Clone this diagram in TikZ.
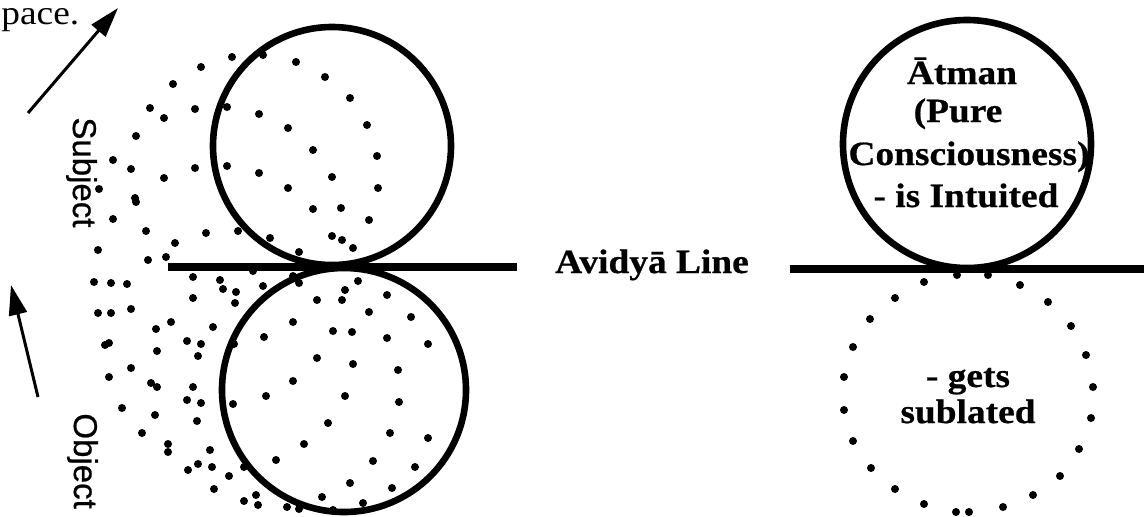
\documentclass[tikz,border=0pt]{standalone}
\usepackage{fontspec}
\usetikzlibrary{arrows.meta}
\newfontfamily\subjfont{Liberation Sans}[FakeBold=0.7]
\newfontfamily\serfont{Liberation Serif}[FakeStretch=1.1, BoldFeatures={FakeBold=0.6}]
\newcommand\schbold{\serfont\bfseries\fontsize{17pt}{21pt}\selectfont}
\newcommand\schreg{\serfont\fontsize{17pt}{21pt}\selectfont}
\tikzset{
  ring/.style={line width=3.3pt},
  bar/.style={line width=4.3pt},
  arr/.style={line width=1.5pt, -{Triangle[length=15pt,width=9pt]}},
  lbl/.style={inner sep=0pt, font=\schbold},
  side/.style={inner sep=0pt, font=\subjfont\fontsize{16.5pt}{20pt}\selectfont, rotate=-90, anchor=base west},
}
\begin{document}
\begin{tikzpicture}[x=0.5pt,y=-0.5pt]
\useasboundingbox (0,0) rectangle (1148,516);
\clip (0,0) rectangle (1148,516);
% centres
\coordinate (cu) at (332,146);
\coordinate (cl) at (344,390);
\coordinate (cr) at (967,144);
% dots of the left figure
\foreach \p in {(232,57),(201,67),(173,84),(150,108),(164,118),(195,109),(227,107),(259,114),(296,62),(325,77),(350,98),(367,125),(288,128),(313,150),(377,156),(136,136),(113,160),(131,169),(164,178),(195,168),(227,166),(259,173),(332,177),(288,188),(378,188),(99,189),(135,198),(136,202),(313,209),(341,208),(369,220),(113,219),(146,231),(206,233),(238,231),(270,238),(332,236),(342,240),(353,248),(299,252),(175,243),(166,257),(148,260),(98,250),(263,55),
(94,282),(111,283),(127,284),(193,277),(220,280),(223,289),(236,292),(263,286),(253,271),(293,276),(299,283),(193,298),(235,303),(345,290),(358,281),(342,300),(317,300),(387,295),(369,312),(411,317),(98,313),(111,313),(131,309),(171,322),(156,329),(213,327),(293,322),(333,331),(352,332),(387,338),(428,344),(264,337),(187,341),(201,344),(198,356),(157,351),(234,344),(317,358),(353,364),(398,370),(105,345),(109,343),(131,368),(293,381),(109,377),(151,383),(157,387),(193,387),(266,396),(345,396),(187,400),(201,403),(233,404),(399,402),(122,408),(155,415),(197,421),(328,423),(390,433),(142,433),(304,444),(168,444),(168,452),(210,450),(276,460),(373,461),(415,467),(188,470),(198,464),(212,467),(229,476),(244,467),(350,483),(392,488),(214,489),(244,501),(256,495),(258,505),(287,507),(299,509),(322,497),(333,510),(363,503),(428,438)}
  \fill \p circle[radius=4];
% dots of the right (sublated) circle
\foreach \p in {(957,275),(988,275),(924,282),(895,298),(870,319),(853,347),(844,377),(844,410),(853,441),(871,468),(895,489),(924,504),(956,512),(969,512),(1003,507),(1033,495),(1060,476),(1079,449),(1091,418),(1093,387),(1086,355),(1071,326),(1048,302),(1020,285)}
  \fill \p circle[radius=4];
% solid circles
\draw[ring] (cu) circle[radius=119];
\draw[ring] (cl) circle[radius=122];
\draw[ring] (cr) circle[radius=124];
% Avidya lines
\coordinate (l1a) at (168,267);
\coordinate (l1b) at (517,267);
\coordinate (l2a) at (790,269);
\coordinate (l2b) at (1144,269);
\draw[bar] (l1a) -- (l1b);
\draw[bar] (l2a) -- (l2b);
% arrows
\coordinate (a1t) at (28,113);
\coordinate (a1h) at (118,8);
\coordinate (a2t) at (38,397);
\coordinate (a2h) at (11,285);
\draw[arr] (a1t) -- (a1h);
\draw[arr] (a2t) -- (a2h);
% texts
\node[inner sep=0pt, font=\schreg, text height=8pt, text depth=4pt, anchor=base west] (sp) at (1,24) {pace.};
\node[side] (subj) at (73,117) {Subject};
\node[side] (obj) at (74,413) {Object};
\node[lbl, anchor=base] (avl) at (652,273) {Avidyā Line};
\node[lbl, anchor=base] (t1) at (962,84) {Ātman};
\node[lbl, anchor=base] (t2) at (958,122) {(Pure};
\node[lbl, anchor=base] (t3) at (969,165) {Consciousness)};
\node[lbl, anchor=base] (t4) at (966,207) {- is Intuited};
\node[lbl, anchor=base] (s1) at (968,387) {- gets};
\node[lbl, anchor=base] (s2) at (968,423) {sublated};
\end{tikzpicture}
\end{document}
